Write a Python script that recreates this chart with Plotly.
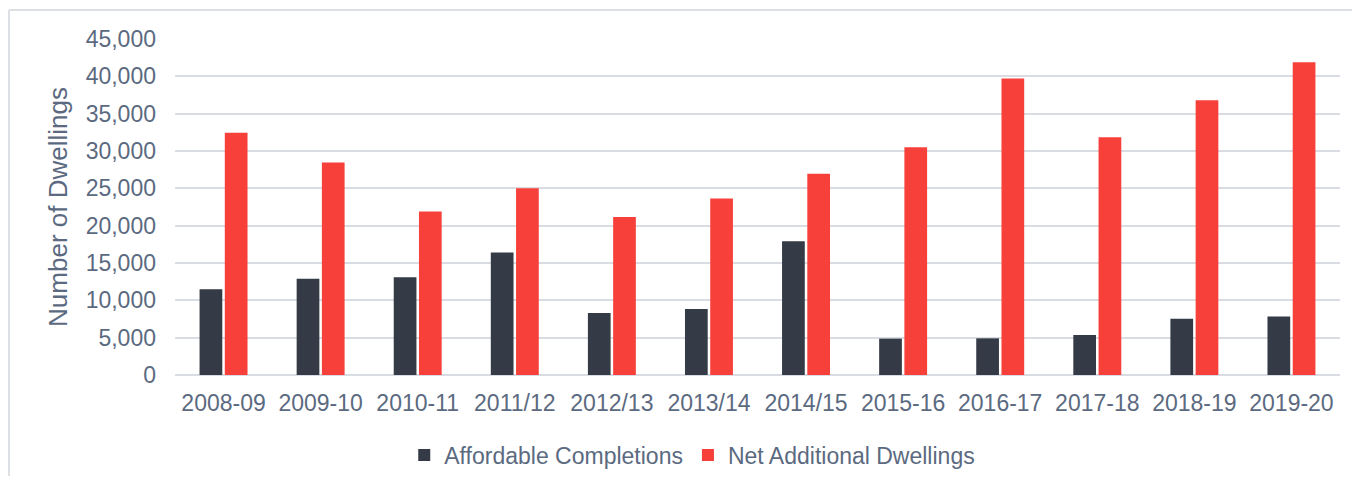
import plotly.graph_objects as go

# Housing delivery by year
years = ['2008-09', '2009-10', '2010-11', '2011/12', '2012/13', '2013/14',
         '2014/15', '2015-16', '2016-17', '2017-18', '2018-19', '2019-20']
affordable = [11500, 12900, 13100, 16400, 8300, 8850,
              17900, 4870, 4910, 5360, 7550, 7820]
net_additional = [32450, 28450, 21900, 25000, 21150, 23650,
                  26950, 30500, 39700, 31850, 36800, 41900]

y_ticks = list(range(0, 45001, 5000))

TEXT = '#5b6a80'
GRID = '#d9dde3'

fig = go.Figure()
fig.add_trace(go.Bar(x=years, y=affordable, name='Affordable Completions',
                     marker=dict(color='#343a46', line=dict(width=0))))
fig.add_trace(go.Bar(x=years, y=net_additional, name='Net Additional Dwellings',
                     marker=dict(color='#f8403a', line=dict(width=0))))

# page body has an 8px margin, so the figure is a bit smaller than the window
W, H = 1344, 468
L, R, T, B = 167, 12, 31, 101
PW, PH = W - L - R, H - T - B

fig.update_layout(
    width=W, height=H,
    margin=dict(l=L, r=R, t=T, b=B, autoexpand=False),
    paper_bgcolor='white', plot_bgcolor='white',
    font=dict(family='Liberation Sans, Arial, sans-serif', size=23, color=TEXT),
    barmode='group', bargap=0.48, bargroupgap=0.1,
    legend=dict(orientation='h', x=0.444, xanchor='center',
                y=-(447 - (H - B)) / PH, yanchor='middle',
                font=dict(size=23, color=TEXT), itemwidth=30,
                traceorder='normal'),
    xaxis=dict(type='category', showgrid=False, showline=False, ticks='',
               automargin=False, ticklabelstandoff=12, tickfont=dict(size=23)),
    yaxis=dict(range=[0, 45000], tickvals=y_ticks, tickformat=',',
               showgrid=True, gridcolor=GRID, gridwidth=2,
               zeroline=True, zerolinecolor=GRID, zerolinewidth=2,
               automargin=False,
               ticks='', ticklabelstandoff=18, tickfont=dict(size=23),
               title=dict(text='Number of Dwellings', font=dict(size=26),
                          standoff=10)),
    shapes=[
        dict(type='line', xref='paper', yref='paper',
             x0=(1 - L) / PW, x1=(W + 20 - L) / PW,
             y0=(H - B - 2) / PH, y1=(H - B - 2) / PH,
             line=dict(color='#dcdfe3', width=2)),
        dict(type='line', xref='paper', yref='paper',
             x0=(1 - L) / PW, x1=(1 - L) / PW,
             y0=(H - B - 2) / PH, y1=-(B + 20) / PH,
             line=dict(color='#dcdfe3', width=2)),
    ],
)

fig.write_html('out.html')
